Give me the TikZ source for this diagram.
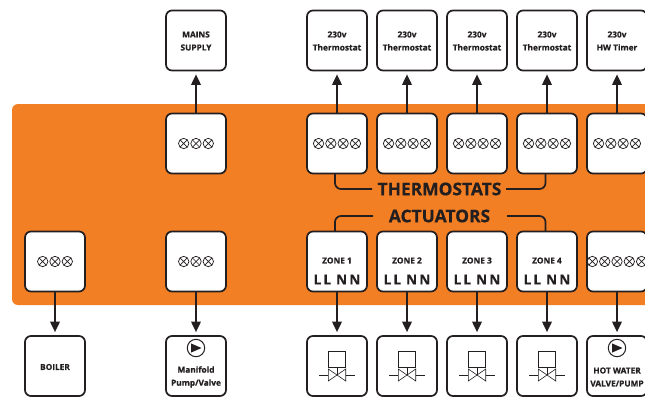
\documentclass[tikz,border=0pt]{standalone}
\usepackage{fontspec}
\setmainfont[BoldFeatures={FakeBold=0.6}]{Open Sans}
\usetikzlibrary{arrows.meta}
\definecolor{ink}{HTML}{231F20}
\definecolor{band}{HTML}{F37F25}
\tikzset{
  x=1pt,y=-1pt,
  box/.style={draw=ink,fill=white,line width=1.7pt,rounded corners=6pt,minimum width=60pt,minimum height=60pt,inner sep=0pt},
  arr/.style={draw=ink,line width=1.8pt,-{Triangle[length=10.5pt,width=9.5pt]},shorten >=3pt},
  link/.style={draw=ink,line width=1.7pt,rounded corners=6pt},
  small/.style={text=ink,font=\bfseries\fontsize{8.3}{13}\selectfont,align=center,inner sep=0pt},
  lln/.style={text=ink,font=\bfseries\fontsize{13.5}{14}\selectfont,inner sep=0pt},
  big/.style={text=ink,font=\bfseries\fontsize{17.4}{20}\selectfont,inner sep=0pt},
  sym/.style={draw=ink,line width=.7pt},
  thin sym/.style={draw=ink,line width=.6pt},
  terms/.pic={
    \foreach \i in {1,...,#1}{
      \pgfmathsetmacro{\xx}{(\i-(#1+1)/2)*12.3}
      \begin{scope}[shift={(\xx,0)}]
        \draw[sym] (0,0) circle (5.2);
        \draw[sym] (-3.7,-3.7) -- (3.7,3.7) (-3.7,3.7) -- (3.7,-3.7);
      \end{scope}
    }
  },
  pump/.pic={
    \draw[draw=ink,line width=1pt] (0,0) circle (8.7);
    \fill[ink] (-5,-4.6) -- (5.5,0) -- (-5,4.6) -- cycle;
  },
  valve/.pic={
    \draw[thin sym] (-8.5,-24) rectangle (8.5,-8);
    \draw[thin sym] (0,-8) -- (0,0);
    \draw[thin sym] (-8.7,-6) -- (8.7,6) -- (8.7,-6) -- (-8.7,6) -- cycle;
    \draw[thin sym] (-18,0) -- (-8.7,0) (8.7,0) -- (18,0);
  }
}
\begin{document}
\begin{tikzpicture}
\useasboundingbox (0,0) rectangle (645,397);
\clip (0,0) rectangle (645,397);
\fill[band,rounded corners=6pt] (12,104) rectangle (700,305);

% top row
\node[box] (mains) at (196,40.5) {};
\node[small] at (196,41) {MAINS\\SUPPLY};
\foreach \n/\x in {1/337,2/407,3/477,4/547}{
  \node[box] (top\n) at (\x,40.5) {};
  \node[small] at (\x,41) {230v\\Thermostat};
}
\node[box] (top5) at (617,40.5) {};
\node[small] at (617,41) {230v\\HW Timer};

% second row
\node[box] (mid0) at (196,143.5) {};
\pic at (mid0.center) {terms=3};
\foreach \n/\x in {1/337,2/407,3/477,4/547,5/617}{
  \node[box] (mid\n) at (\x,143.5) {};
  \pic at (mid\n.center) {terms=4};
  \draw[arr] (mid\n.north) -- (top\n.south);
}
\draw[arr] (mid0.north) -- (mains.south);

% third row
\node[box] (boil) at (55,261.5) {};
\pic at (boil.center) {terms=3};
\node[box] (pumpb) at (196,261.5) {};
\pic at (pumpb.center) {terms=3};
\foreach \n/\x in {1/337,2/407,3/477,4/547}{
  \node[box] (zone\n) at (\x,261.5) {};
  \node[small] at (\x,260.5) {ZONE \n};
  \node[lln] at (\x,279.5) {L\kern2.2pt L\kern5pt N\kern2.2pt N};
}
\node[box] (zone5) at (617,261.5) {};
\pic at (617,261.5) {terms=5};

% bottom row
\node[box] (boiler) at (55,366) {};
\node[small] at (55,367) {BOILER};
\node[box] (manif) at (196,366) {};
\pic at (196,348) {pump};
\node[small] at (196,377) {Manifold\\Pump/Valve};
\foreach \n/\x in {1/337,2/407,3/477,4/547}{
  \node[box] (act\n) at (\x,366) {};
  \pic at (\x,375) {valve};
  \draw[arr] (zone\n.south) -- (act\n.north);
}
\node[box] (hot) at (617,366) {};
\pic at (617,348) {pump};
\node[small] at (617,377) {HOT WATER\\VALVE/PUMP};
\draw[arr] (zone5.south) -- (hot.north);
\draw[arr] (boil.south) -- (boiler.north);
\draw[arr] (pumpb.south) -- (manif.north);

% group labels
\node[big] (therm) at (439.5,189) {THERMOSTATS};
\node[big] (actu) at (439.5,216) {ACTUATORS};
\coordinate (tl) at (335,174);
\coordinate (tr) at (545.5,174);
\coordinate (al) at (335,231);
\coordinate (ar) at (545.5,231);
\coordinate (tle) at (372,189);
\coordinate (tre) at (506,189);
\coordinate (ale) at (373,216);
\coordinate (are) at (507,216);
\draw[link] (tl) |- (tle);
\draw[link] (tr) |- (tre);
\draw[link] (al) |- (ale);
\draw[link] (ar) |- (are);
\end{tikzpicture}
\end{document}
